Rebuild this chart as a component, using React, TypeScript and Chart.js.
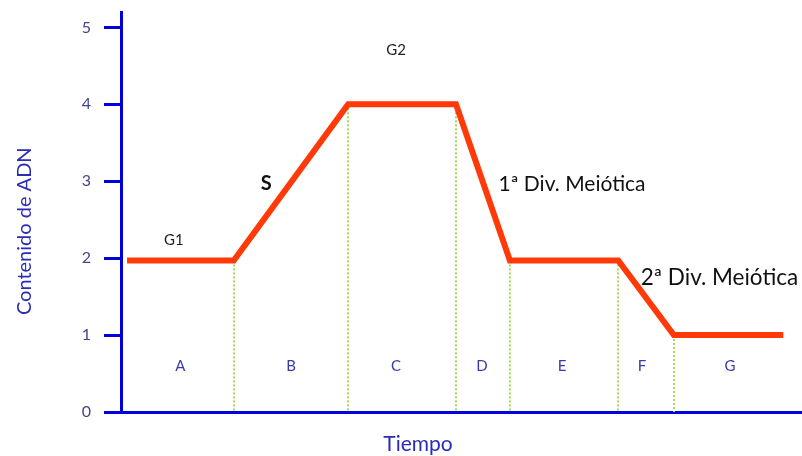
import React, { useEffect, useRef } from "react";
import { Chart, registerables } from "chart.js";

Chart.register(...registerables);

// ---- data ----
const timePoints = [0.11, 2.05, 4.13, 6.09, 7.07, 9.04, 10.05, 12.04];
const dnaContent = [1.97, 1.97, 4.0, 4.0, 1.97, 1.97, 1.0, 1.0];
const yTickValues = [0, 1, 2, 3, 4, 5];

const phaseLetters = ["A", "B", "C", "D", "E", "F", "G"];
const phaseLetterX = [1.08, 3.09, 5.0, 6.56, 8.02, 9.47, 11.07];
const phaseLetterY = 0.6;

const annotationTexts = ["G1", "S", "G2", "1ª Div. Meiótica", "2ª Div. Meiótica"];
const annotationX = [0.96, 2.64, 5.0, 8.2, 10.88];
const annotationY = [2.23, 2.97, 4.71, 2.96, 1.75];

const xTitle = "Tiempo";
const yTitle = "Contenido de ADN";
const xTitleAt = 5.4;
const yTitleAt = 2.35;

// ---- styles ----
const FONT = "Lato, 'Open Sans', sans-serif";
const AXIS_BLUE = "#0000DD";
const LINE_RED = "#FF3A08";
const DOT_GREEN = "#A2DC55";
const annotationStyle = [
  { size: 15, weight: "normal", color: "#222222" },
  { size: 20, weight: "bold", color: "#111111" },
  { size: 15, weight: "normal", color: "#222222" },
  { size: 21, weight: "normal", color: "#111111" },
  { size: 22.5, weight: "normal", color: "#111111" },
];

const overlayPlugin = {
  id: "overlay",
  beforeDatasetsDraw(chart: any) {
    const { ctx, scales } = chart;
    const xs = scales.x;
    const ys = scales.y;
    ctx.save();
    ctx.strokeStyle = DOT_GREEN;
    ctx.lineWidth = 2;
    ctx.setLineDash([2, 2]);
    for (let i = 1; i < timePoints.length - 1; i++) {
      const px = Math.round(xs.getPixelForValue(timePoints[i]));
      ctx.beginPath();
      ctx.moveTo(px, ys.getPixelForValue(dnaContent[i]));
      ctx.lineTo(px, ys.getPixelForValue(0));
      ctx.stroke();
    }
    ctx.restore();
  },
  afterDatasetsDraw(chart: any) {
    const { ctx, scales, chartArea } = chart;
    const xs = scales.x;
    const ys = scales.y;
    ctx.save();
    ctx.textAlign = "center";
    ctx.textBaseline = "middle";
    // phase letters
    ctx.fillStyle = "#3A3AAA";
    ctx.font = `15px ${FONT}`;
    phaseLetters.forEach((t, i) => {
      ctx.fillText(t, xs.getPixelForValue(phaseLetterX[i]), ys.getPixelForValue(phaseLetterY));
    });
    // annotations
    annotationTexts.forEach((t, i) => {
      const st = annotationStyle[i];
      ctx.fillStyle = st.color;
      ctx.font = `${st.weight} ${st.size}px ${FONT}`;
      ctx.fillText(t, xs.getPixelForValue(annotationX[i]), ys.getPixelForValue(annotationY[i]));
    });
    // axis titles
    ctx.fillStyle = "#2B2BB8";
    ctx.font = `21px ${FONT}`;
    ctx.fillText(xTitle, xs.getPixelForValue(xTitleAt), chartArea.bottom + 32);
    ctx.font = `20px ${FONT}`;
    ctx.save();
    ctx.translate(25, ys.getPixelForValue(yTitleAt));
    ctx.rotate(-Math.PI / 2);
    ctx.fillText(yTitle, 0, 0);
    ctx.restore();
    ctx.restore();
  },
};

export default function App() {
  const ref = useRef<HTMLCanvasElement>(null);
  useEffect(() => {
    if (!ref.current) return;
    const chart = new Chart(ref.current, {
      type: "line",
      data: {
        datasets: [
          {
            data: timePoints.map((x, i) => ({ x, y: dnaContent[i] })),
            borderColor: LINE_RED,
            borderWidth: 6,
            pointRadius: 0,
            tension: 0,
            borderJoinStyle: "miter",
            clip: false as any,
          },
        ],
      },
      options: {
        animation: false,
        responsive: true,
        maintainAspectRatio: false,
        layout: { padding: { top: 12, right: 0, left: 0, bottom: 0 } },
        plugins: { legend: { display: false }, tooltip: { enabled: false } },
        scales: {
          x: {
            type: "linear",
            min: 0,
            max: 12.38,
            afterFit: (s: any) => {
              s.height = 44;
              s.paddingLeft = 0;
              s.paddingRight = 0;
            },
            ticks: { display: false },
            grid: { display: false, drawTicks: false },
            border: { display: true, color: AXIS_BLUE, width: 3 },
          },
          y: {
            type: "linear",
            min: 0,
            max: 5.2,
            afterFit: (s: any) => {
              s.width = 121;
              s.paddingTop = 0;
              s.paddingBottom = 0;
            },
            afterBuildTicks: (s: any) => {
              s.ticks = yTickValues.map((v) => ({ value: v }));
            },
            ticks: {
              padding: 13,
              color: "#44448A",
              font: { family: FONT, size: 16 },
            },
            grid: {
              display: true,
              drawOnChartArea: false,
              drawTicks: true,
              tickLength: 17,
              tickColor: AXIS_BLUE,
              tickWidth: 3,
            },
            border: { display: true, color: AXIS_BLUE, width: 3 },
          },
        },
      },
      plugins: [overlayPlugin],
    });
    return () => chart.destroy();
  }, []);
  return (
    <div style={{ position: "fixed", left: 0, top: 0, width: 802, height: 456, background: "#fff" }}>
      <canvas ref={ref} />
    </div>
  );
}
